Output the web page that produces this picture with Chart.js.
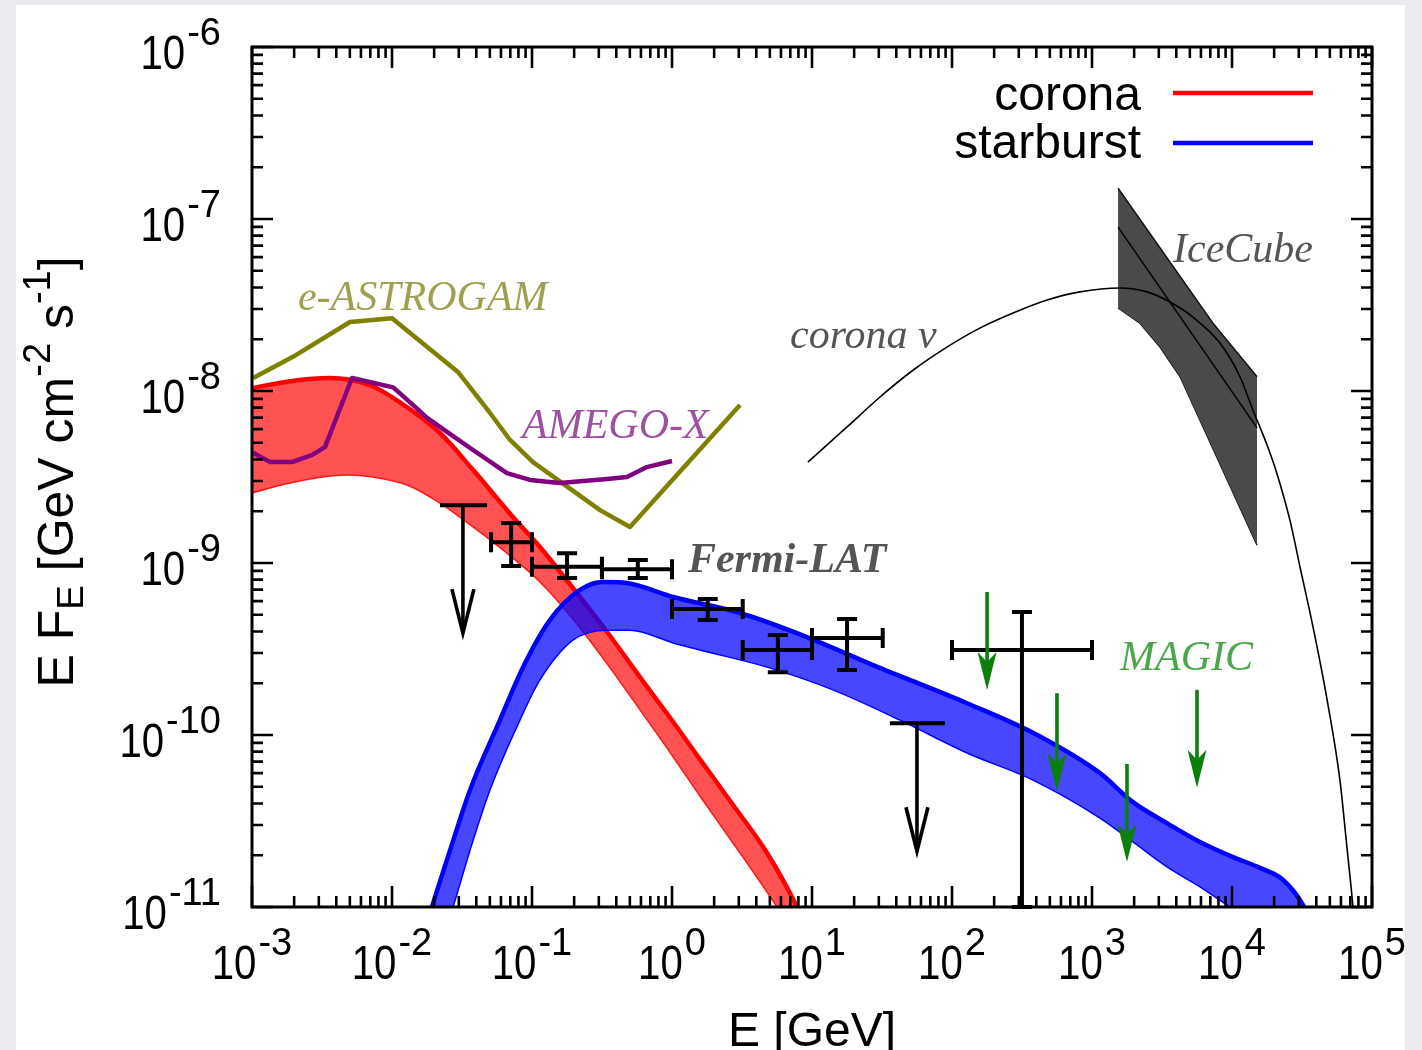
<!DOCTYPE html>
<html>
<head>
<meta charset="utf-8">
<script src="https://cdn.jsdelivr.net/npm/chart.js@4.4.1/dist/chart.umd.min.js"></script>
<style>
  html, body { margin: 0; padding: 0; overflow: hidden; background: #e9ebee; }
  #card { position: absolute; left: 16px; top: 5px; width: 1389px; height: 1045px; background: #fff; overflow: hidden; }
  #sed { position: absolute; left: -16px; top: -5px; }
</style>
</head>
<body>
<div id="card"><canvas id="sed" width="1422" height="1050"></canvas></div>
<script>
// E in GeV, E*F_E in GeV cm^-2 s^-1

// corona gamma-ray band, upper and lower envelope
const coronaHiE = [0.001, 0.00187, 0.0036, 0.00697, 0.0114, 0.022, 0.0379, 0.0731, 0.114, 0.196, 0.344, 0.59, 1.02, 1.58, 2.73, 4.78, 7.82, 8.9];
const coronaHiF = [1.04e-8, 1.14e-8, 1.19e-8, 1.08e-8, 8.6e-9, 5.7e-9, 3.48e-9, 1.85e-9, 1.24e-9, 7.16e-10, 3.97e-10, 2.17e-10, 1.19e-10, 7.24e-11, 3.92e-11, 2.06e-11, 1.0e-11, 7.9e-12];
const coronaLoE = [0.001, 0.00187, 0.00477, 0.00731, 0.0128, 0.022, 0.0379, 0.0662, 0.114, 0.196, 0.344, 0.59, 1.02, 1.58, 3.06, 5.62, 8.9];
const coronaLoF = [2.55e-9, 2.92e-9, 3.25e-9, 3.16e-9, 2.84e-9, 2.23e-9, 1.62e-9, 1.14e-9, 7.76e-10, 4.72e-10, 2.59e-10, 1.40e-10, 7.45e-11, 4.42e-11, 2.06e-11, 1.0e-11, 5.6e-12];

// starburst band
const starHiE = [0.0172, 0.0193, 0.026, 0.0361, 0.059, 0.0863, 0.1345, 0.22, 0.321, 0.477, 1.02, 3.06, 9.2, 27.3, 128, 379, 1140, 1963, 3435, 5905, 10200, 15800, 23100, 32100, 37300];
const starHiF = [7.3e-12, 1.0e-11, 2.14e-11, 4.79e-11, 1.22e-10, 2.48e-10, 4.67e-10, 6.97e-10, 7.76e-10, 7.65e-10, 6.34e-10, 5.12e-10, 3.71e-10, 2.55e-10, 1.53e-10, 1.03e-10, 6.0e-11, 4.07e-11, 3.07e-11, 2.39e-11, 1.95e-11, 1.69e-11, 1.44e-11, 1.03e-11, 7.9e-12];
const starLoE = [0.0172, 0.0273, 0.0361, 0.0501, 0.082, 0.114, 0.196, 0.344, 0.501, 1.02, 1.58, 4.78, 14.1, 42.5, 128, 379, 1140, 1963, 3435, 5905, 9680, 37300];
const starLoF = [3.2e-12, 1.0e-11, 2.14e-11, 4.79e-11, 1.22e-10, 2.09e-10, 3.56e-10, 4.07e-10, 4.07e-10, 3.43e-10, 3.12e-10, 2.48e-10, 1.83e-10, 1.22e-10, 7.86e-11, 5.47e-11, 3.29e-11, 2.39e-11, 1.71e-11, 1.31e-11, 1.0e-11, 4.9e-12];

// MeV instrument sensitivities
const astrogamE = [0.00102, 0.00196, 0.00501, 0.01, 0.0296, 0.0501, 0.0697, 0.1016, 0.306, 0.501, 3.06];
const astrogamF = [1.19e-8, 1.58e-8, 2.52e-8, 2.65e-8, 1.29e-8, 7.45e-9, 5.19e-9, 3.86e-9, 2.03e-9, 1.62e-9, 8.3e-9];
const amegoE = [0.00102, 0.00135, 0.00193, 0.00269, 0.00332, 0.00518, 0.0102, 0.0141, 0.0178, 0.0247, 0.0379, 0.0662, 0.0968, 0.158, 0.344, 0.477, 0.662, 1.0];
const amegoF = [4.37e-9, 3.86e-9, 3.86e-9, 4.25e-9, 4.72e-9, 1.19e-8, 1.05e-8, 8.3e-9, 6.97e-9, 5.78e-9, 4.54e-9, 3.33e-9, 3.04e-9, 2.92e-9, 3.08e-9, 3.16e-9, 3.61e-9, 3.92e-9];

// corona neutrino spectrum
const nuE = [9.35, 17.8, 30.6, 52.6, 92.0, 158, 273, 478, 820, 1585, 2472, 3606, 5260, 8204, 11400, 14100, 17800, 20900, 25900, 30600, 37900, 47800, 59000, 66200, 73100, 78200];
const nuF = [3.86e-9, 6.18e-9, 9.23e-9, 1.32e-8, 1.80e-8, 2.32e-8, 2.84e-8, 3.38e-8, 3.77e-8, 3.97e-8, 3.77e-8, 3.29e-8, 2.69e-8, 1.90e-8, 1.21e-8, 7.76e-9, 4.85e-9, 3.33e-9, 1.78e-9, 9.48e-10, 4.25e-10, 1.60e-10, 5.47e-11, 2.23e-11, 1.0e-11, 4.9e-12];

// IceCube neutrino band and best fit
const iceHiE = [1535, 7310, 15100];
const iceHiF = [1.51e-7, 2.48e-8, 1.21e-8];
const iceLoE = [1535, 2200, 3060, 4260, 15100];
const iceLoF = [3.04e-8, 2.48e-8, 1.80e-8, 1.21e-8, 1.27e-9];
const iceFitE = [1535, 15100];
const iceFitF = [8.97e-8, 6.1e-9];

// Fermi-LAT points: bin centre, bin edges, flux and its error range
const fermiE = [0.071, 0.178, 0.57, 1.8, 5.7, 17.8, 316];
const fermiElo = [0.051, 0.1, 0.316, 1.0, 3.2, 10, 100];
const fermiEhi = [0.1, 0.316, 1.0, 3.2, 10, 32, 1000];
const fermiF = [1.32e-9, 9.5e-10, 9.2e-10, 5.4e-10, 3.12e-10, 3.66e-10, 3.12e-10];
const fermiFlo = [9.6e-10, 8.18e-10, 8.18e-10, 4.67e-10, 2.32e-10, 2.39e-10, 1.0e-11];
const fermiFhi = [1.71e-9, 1.14e-9, 1.04e-9, 6.18e-10, 3.81e-10, 4.72e-10, 5.19e-10];

// Fermi-LAT upper limits
const limitE = [0.0321, 56.2];
const limitElo = [0.022, 36];
const limitEhi = [0.0478, 89];
const limitF = [2.17e-9, 1.17e-10];

// MAGIC upper limits
const magicE = [178, 562, 1778, 5623];
const magicF = [6.78e-10, 1.75e-10, 6.78e-11, 1.83e-10];

// axis decades
const xTicks = [1e-3, 1e-2, 1e-1, 1e0, 1e1, 1e2, 1e3, 1e4, 1e5];
const yTicks = [1e-11, 1e-10, 1e-9, 1e-8, 1e-7, 1e-6];

const pts = (xs, ys) => xs.map((x, i) => ({x: x, y: ys[i]}));

const sans = '"Liberation Sans", Arial, Helvetica, sans-serif';
const serif = '"Liberation Serif", "Times New Roman", serif';

// text placed in data coordinates
const notes = [
  {text: 'e-ASTROGAM', e: 2.13e-3, f: 2.96e-8, font: 'italic 42px ' + serif, color: '#a0a050'},
  {text: 'AMEGO-X', e: 0.0849, f: 5.33e-9, font: 'italic 42px ' + serif, color: '#a050a0'},
  {text: 'Fermi-LAT', e: 1.3, f: 8.87e-10, font: 'italic bold 42px ' + serif, color: '#555555'},
  {text: 'MAGIC', e: 1585, f: 2.39e-10, font: 'italic 42px ' + serif, color: '#4ca64c'},
  {text: 'corona \u03bd', e: 6.97, f: 1.78e-8, font: 'italic 42px ' + serif, color: '#555555'},
  {text: 'IceCube', e: 3793, f: 5.62e-8, font: 'italic 42px ' + serif, color: '#555555'}
];

function arrowDown(ctx, cx, top, len, color, filled) {
  const tip = top + len;
  ctx.strokeStyle = color;
  ctx.fillStyle = color;
  ctx.lineWidth = 3.6;
  ctx.beginPath();
  ctx.moveTo(cx, top);
  ctx.lineTo(cx, filled ? tip - 26 : tip - 2);
  ctx.stroke();
  ctx.beginPath();
  if (filled) {
    ctx.moveTo(cx, tip);
    ctx.lineTo(cx - 9.5, tip - 38);
    ctx.lineTo(cx, tip - 28);
    ctx.lineTo(cx + 9.5, tip - 38);
    ctx.closePath();
    ctx.fill();
  } else {
    ctx.lineJoin = 'miter';
    ctx.moveTo(cx - 11, tip - 44);
    ctx.lineTo(cx, tip);
    ctx.lineTo(cx + 11, tip - 44);
    ctx.stroke();
  }
}

// "10" followed by a raised exponent
function powerLabel(ctx, exp, anchorX, baseline, align) {
  const sup = String(exp);
  ctx.font = '49px ' + sans;
  const wb = ctx.measureText('10').width * 0.82;
  ctx.font = '38px ' + sans;
  const ws = ctx.measureText(sup).width;
  const total = wb + 2 + ws;
  const left = align === 'right' ? anchorX - total : anchorX - total / 2;
  ctx.save();
  ctx.translate(left, baseline);
  ctx.scale(0.82, 1);
  ctx.font = '49px ' + sans;
  ctx.fillText('10', 0, 0);
  ctx.restore();
  ctx.font = '38px ' + sans;
  ctx.fillText(sup, left + wb + 2, baseline - 24);
}

const decor = {
  id: 'decor',
  afterDatasetsDraw(chart) {
    const {ctx, chartArea: a, scales: {x, y}} = chart;
    const px = v => x.getPixelForValue(v);
    const py = v => y.getPixelForValue(v);
    ctx.save();
    ctx.lineCap = 'butt';
    ctx.textAlign = 'left';
    ctx.textBaseline = 'alphabetic';

    // Fermi-LAT points with error bars
    const cap = 10;
    ctx.strokeStyle = '#000';
    ctx.lineWidth = 4;
    fermiE.forEach((e, i) => {
      const cx = px(e), cy = py(fermiF[i]);
      const x0 = px(fermiElo[i]), x1 = px(fermiEhi[i]);
      const y0 = py(fermiFhi[i]), y1 = py(fermiFlo[i]);
      ctx.beginPath();
      ctx.moveTo(x0, cy); ctx.lineTo(x1, cy);
      ctx.moveTo(x0, cy - cap); ctx.lineTo(x0, cy + cap);
      ctx.moveTo(x1, cy - cap); ctx.lineTo(x1, cy + cap);
      ctx.moveTo(cx, y0); ctx.lineTo(cx, y1);
      ctx.moveTo(cx - cap, y0); ctx.lineTo(cx + cap, y0);
      ctx.moveTo(cx - cap, y1); ctx.lineTo(cx + cap, y1);
      ctx.stroke();
    });

    // Fermi-LAT upper limits
    limitE.forEach((e, i) => {
      const top = py(limitF[i]);
      ctx.strokeStyle = '#000';
      ctx.lineWidth = 4;
      ctx.beginPath();
      ctx.moveTo(px(limitElo[i]), top);
      ctx.lineTo(px(limitEhi[i]), top);
      ctx.stroke();
      arrowDown(ctx, px(e), top, 128, '#000', false);
    });

    // MAGIC upper limits
    magicE.forEach((e, i) => arrowDown(ctx, px(e), py(magicF[i]), 98, '#0a800a', true));

    // curve labels
    notes.forEach(n => {
      ctx.font = n.font;
      ctx.fillStyle = n.color;
      ctx.fillText(n.text, px(n.e), py(n.f));
    });

    // legend
    ctx.font = '48px ' + sans;
    ctx.textAlign = 'right';
    [[0, 110, 93], [2, 158, 143]].forEach(([ds, base, ly]) => {
      const set = chart.data.datasets[ds];
      ctx.fillStyle = '#000';
      ctx.fillText(set.label, 1141, base);
      ctx.strokeStyle = set.borderColor;
      ctx.lineWidth = 4.5;
      ctx.beginPath();
      ctx.moveTo(1173, ly);
      ctx.lineTo(1313, ly);
      ctx.stroke();
    });

    // frame with inward ticks on all four sides
    ctx.strokeStyle = '#000';
    ctx.lineWidth = 3;
    ctx.strokeRect(a.left, a.top, a.right - a.left, a.bottom - a.top);
    const minors = [2, 3, 4, 5, 6, 7, 8, 9];
    ctx.lineWidth = 2.6;
    ctx.beginPath();
    xTicks.forEach((t, k) => {
      const p = px(t);
      ctx.moveTo(p, a.bottom); ctx.lineTo(p, a.bottom - 21);
      ctx.moveTo(p, a.top); ctx.lineTo(p, a.top + 21);
      if (k < xTicks.length - 1) minors.forEach(m => {
        const q = px(t * m);
        ctx.moveTo(q, a.bottom); ctx.lineTo(q, a.bottom - 11);
        ctx.moveTo(q, a.top); ctx.lineTo(q, a.top + 11);
      });
    });
    yTicks.forEach((t, k) => {
      const p = py(t);
      ctx.moveTo(a.left, p); ctx.lineTo(a.left + 21, p);
      ctx.moveTo(a.right, p); ctx.lineTo(a.right - 21, p);
      if (k < yTicks.length - 1) minors.forEach(m => {
        const q = py(t * m);
        ctx.moveTo(a.left, q); ctx.lineTo(a.left + 11, q);
        ctx.moveTo(a.right, q); ctx.lineTo(a.right - 11, q);
      });
    });
    ctx.stroke();

    // tick labels
    ctx.fillStyle = '#000';
    ctx.textAlign = 'left';
    xTicks.forEach(t => powerLabel(ctx, Math.round(Math.log10(t)), px(t), 979, 'center'));
    yTicks.forEach(t => powerLabel(ctx, Math.round(Math.log10(t)), 221, py(t) + 22, 'right'));

    // axis titles
    ctx.font = '48px ' + sans;
    ctx.textAlign = 'center';
    ctx.fillText('E [GeV]', (a.left + a.right) / 2, 1046);

    ctx.save();
    ctx.translate(73, (a.top + a.bottom) / 2 - 5);
    ctx.rotate(-Math.PI / 2);
    ctx.textAlign = 'left';
    const parts = [['E F', 50, 0], ['E', 37, 10], [' [GeV cm', 50, 0], ['-2', 38, -23], [' s', 50, 0], ['-1', 38, -23], [']', 50, 0]];
    let total = 0;
    parts.forEach(p => { ctx.font = p[1] + 'px ' + sans; total += ctx.measureText(p[0]).width; });
    let pos = -total / 2;
    parts.forEach(p => {
      ctx.font = p[1] + 'px ' + sans;
      ctx.fillText(p[0], pos, p[2]);
      pos += ctx.measureText(p[0]).width;
    });
    ctx.restore();

    ctx.restore();
  }
};

const ctx = document.getElementById('sed').getContext('2d');
const sedChart = new Chart(ctx, {
  type: 'line',
  data: {
    datasets: [
      {
        label: 'corona', data: pts(coronaHiE, coronaHiF),
        borderColor: '#ff0000', borderWidth: 4.5, fill: 1, backgroundColor: 'rgba(255,0,0,0.68)',
        cubicInterpolationMode: 'monotone', order: 9
      },
      {
        label: 'corona min', data: pts(coronaLoE, coronaLoF),
        borderColor: 'rgba(255,0,0,0.85)', borderWidth: 1.5, fill: false,
        cubicInterpolationMode: 'monotone', order: 9
      },
      {
        label: 'starburst', data: pts(starHiE, starHiF),
        borderColor: '#0000ff', borderWidth: 4.5, fill: 3, backgroundColor: 'rgba(0,0,255,0.72)',
        cubicInterpolationMode: 'monotone', order: 8
      },
      {
        label: 'starburst min', data: pts(starLoE, starLoF),
        borderColor: '#0000ff', borderWidth: 1.5, fill: false,
        cubicInterpolationMode: 'monotone', order: 8
      },
      {
        label: 'IceCube', data: pts(iceHiE, iceHiF),
        borderColor: '#111', borderWidth: 1.5, fill: 5, backgroundColor: '#4a4a4a', order: 12
      },
      {
        label: 'IceCube min', data: pts(iceLoE, iceLoF),
        borderColor: '#111', borderWidth: 1.5, fill: false, order: 12
      },
      {
        label: 'IceCube fit', data: pts(iceFitE, iceFitF),
        borderColor: '#000', borderWidth: 1.5, fill: false, order: 4
      },
      {
        label: 'e-ASTROGAM', data: pts(astrogamE, astrogamF),
        borderColor: '#808000', borderWidth: 4.5, fill: false, order: 7
      },
      {
        label: 'AMEGO-X', data: pts(amegoE, amegoF),
        borderColor: '#800080', borderWidth: 4.5, fill: false, order: 6
      },
      {
        label: 'corona nu', data: pts(nuE, nuF),
        borderColor: '#000', borderWidth: 1.6, fill: false,
        cubicInterpolationMode: 'monotone', order: 5
      }
    ]
  },
  options: {
    responsive: false,
    devicePixelRatio: 1,
    animation: false,
    events: [],
    layout: { padding: { left: 252, top: 47, right: 50, bottom: 143 } },
    elements: { point: { radius: 0 }, line: { borderJoinStyle: 'round' } },
    scales: {
      x: { type: 'logarithmic', min: 1e-3, max: 1e5, display: false },
      y: { type: 'logarithmic', min: 1e-11, max: 1e-6, display: false }
    },
    plugins: {
      legend: { display: false },
      tooltip: { enabled: false }
    }
  },
  plugins: [decor]
});
</script>
</body>
</html>
